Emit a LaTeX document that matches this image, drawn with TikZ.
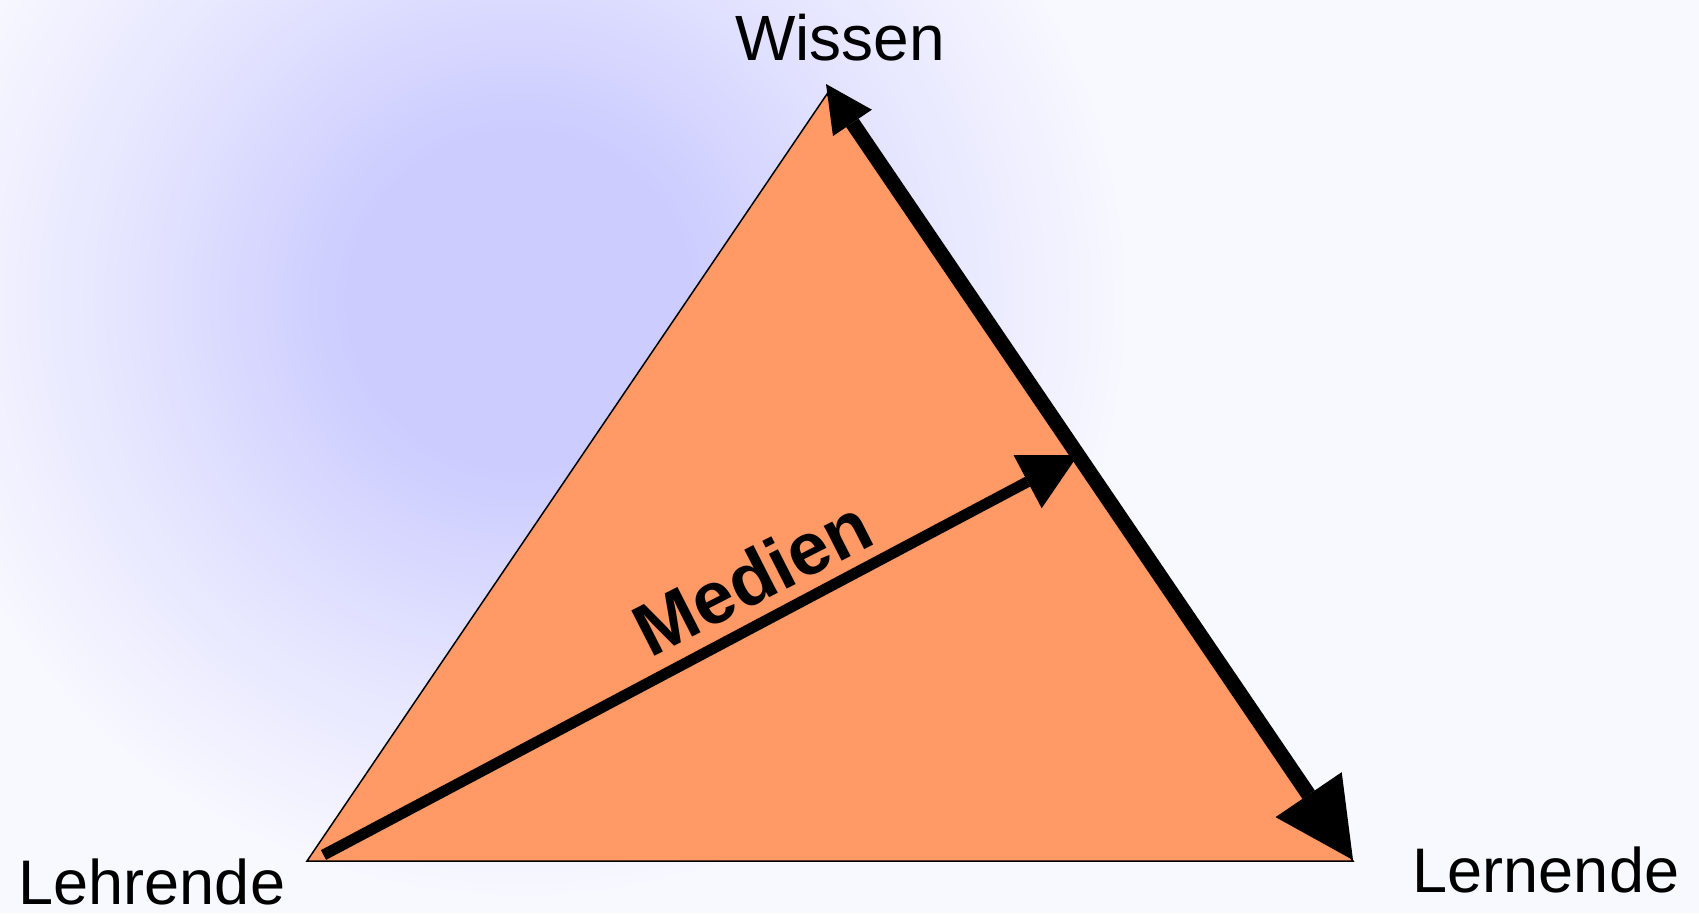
\documentclass[tikz,border=0pt]{standalone}
\usepackage{fontspec}
\setmainfont{Liberation Sans}
\usetikzlibrary{arrows.meta}
\definecolor{bgc}{HTML}{F8F8FF}
\definecolor{blobc}{HTML}{CCCCFF}
\definecolor{trif}{HTML}{FF9966}
\pgfdeclareradialshading{blob}{\pgfpoint{0bp}{0bp}}{color(0bp)=(blobc); color(7bp)=(blobc); color(16bp)=(blobc!45!bgc); color(25bp)=(bgc); color(50bp)=(bgc)}
\begin{document}
\begin{tikzpicture}[x=1pt,y=-1pt,
  lbl/.style={inner sep=0pt,anchor=base,font=\fontsize{63}{70}\selectfont},
  thinedge/.style={fill=trif,draw=black,line width=1.5pt,line join=miter},
  medarrow/.style={line width=11pt,-{Triangle[length=57pt,width=60pt,line width=0pt]}},
  bigarrow/.style={line width=15pt,{Triangle[length=47pt,width=47pt,line width=0pt]}-{Triangle[length=79pt,width=80pt,line width=0pt]}}]
\fill[bgc] (0,0) rectangle (1699,913);
\useasboundingbox (0,0) rectangle (1699,913);
\begin{scope}
\clip (0,0) rectangle (1699,913);
\shade[shading=blob] (520,300) ellipse [x radius=610, y radius=600];
\end{scope}
\coordinate (L) at (307,861);
\coordinate (T) at (827,94);
\coordinate (R) at (1353,861);
\filldraw[thinedge] (L) -- (T) -- (R) -- cycle;
\coordinate (ms) at (323.5,855);
\coordinate (me) at (1078,455);
\draw[medarrow] (ms) -- (me);
\coordinate (wt) at (826,84);
\coordinate (rt) at (1353,860);
\draw[bigarrow] (wt) -- (rt);
\node[lbl,font=\fontsize{64}{70}\selectfont] (wissen) at (840,60) {Wissen};
\node[lbl] (lehr) at (152,904) {Lehrende};
\node[lbl] (lern) at (1546,892) {Lernende};
\node[rotate=27,inner sep=0pt,font=\fontsize{74}{80}\selectfont\bfseries] (medien) at (752,577) {Medien};
\end{tikzpicture}
\end{document}
